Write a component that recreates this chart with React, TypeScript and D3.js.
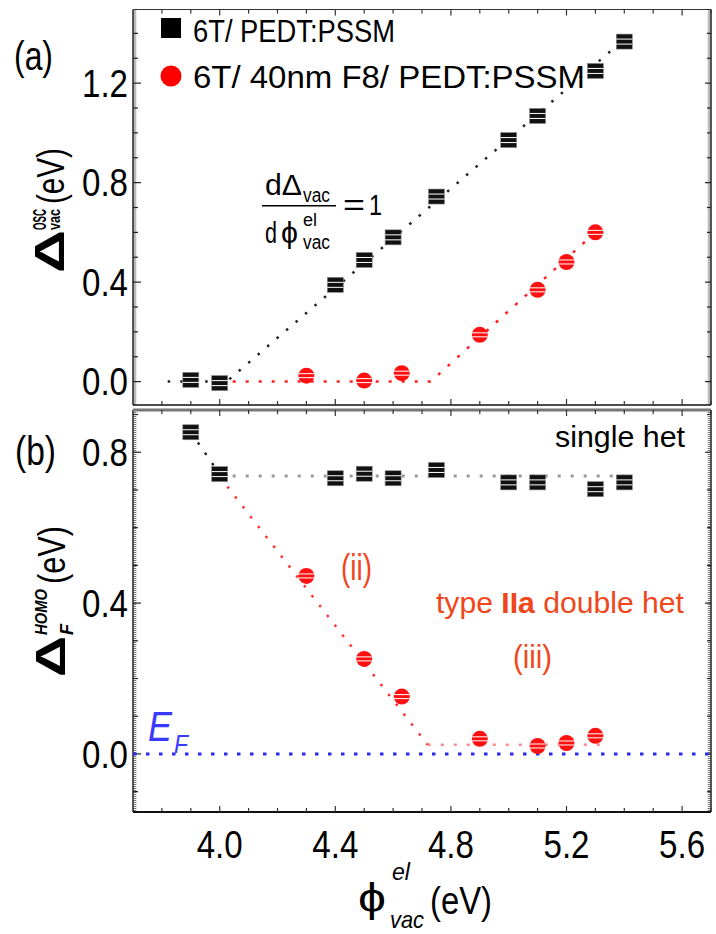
import React from 'react';
import * as d3 from 'd3';

// ---------- data ----------
const xTickVals = [4.0, 4.4, 4.8, 5.2, 5.6];
const topYTickVals = [0.0, 0.4, 0.8, 1.2];
const botYTickVals = [0.0, 0.4, 0.8];

const sqX = [3.9, 4.0, 4.4, 4.5, 4.6, 4.75, 5.0, 5.1, 5.3, 5.4];
const sqTopY = [0.007, -0.006, 0.389, 0.489, 0.58, 0.744, 0.971, 1.068, 1.249, 1.367];
const sqBotY = [0.853, 0.742, 0.731, 0.743, 0.731, 0.753, 0.72, 0.72, 0.702, 0.72];

const cirX = [4.3, 4.5, 4.63, 4.9, 5.1, 5.2, 5.3];
const cirTopY = [0.024, 0.004, 0.034, 0.188, 0.369, 0.481, 0.6];
const cirBotY = [0.472, 0.252, 0.152, 0.04, 0.021, 0.029, 0.048];

// guide (fit) lines
const topBlackFitX = [3.82, 4.024, 5.4];
const topBlackFitY = [0, 0, 1.376];
const topRedFitX = [4.0, 4.73, 5.3];
const topRedFitY = [0, 0, 0.6];
const botBlackFitX = [3.9, 4.0];
const botBlackFitY = [0.853, 0.742];
const botGrayFitX = [4.0, 5.4];
const botGrayFitY = [0.737, 0.737];
const botRedDiagX = [4.0, 4.72];
const botRedDiagY = [0.735, 0.024];
const botRedFlatX = [4.72, 5.35];
const botRedFlatY = [0.024, 0.024];
const efX = [3.7, 5.7];
const efY = [0, 0];

const legendLabels = ['6T/ PEDT:PSSM', '6T/ 40nm F8/ PEDT:PSSM'];

// ---------- layout ----------
const W = 716, H = 934;
const L = 133, R = 711;
const TOP_T = 9.5, TOP_B = 405;
const BOT_T = 410, BOT_B = 812;
const FONT = "'Liberation Sans', Arial, sans-serif";
const ORANGE = '#f0461c';

const x = d3.scaleLinear().domain([3.7, 5.7]).range([L, R]);
const yT = d3.scaleLinear().domain([-0.094, 1.496]).range([TOP_B, TOP_T]);
const yB = d3.scaleLinear().domain([-0.154, 0.912]).range([BOT_B, BOT_T]);

const pts = (xs: number[], ys: number[]) => xs.map((v, i) => [v, ys[i]] as [number, number]);

function T(p: any) {
  const { x: tx, y: ty, size, w, anchor = 'start', fill = '#000', weight = 'normal', italic = false, family = FONT, children } = p;
  return (
    <text x={tx} y={ty} fontSize={size} fontFamily={family} fill={fill} fontWeight={weight}
      fontStyle={italic ? 'italic' : 'normal'} textAnchor={anchor}
      textLength={w} lengthAdjust="spacingAndGlyphs">{children}</text>
  );
}

function Square({ cx, cy }: { cx: number; cy: number }) {
  return (
    <g>
      <rect x={cx - 8} y={cy - 7.5} width={16} height={15} fill="#111" stroke="#888" strokeWidth={0.6} />
      <line x1={cx - 8} x2={cx + 8} y1={cy - 2.5} y2={cy - 2.5} stroke="#fff" strokeWidth={1} />
      <line x1={cx - 8} x2={cx + 8} y1={cy + 2.5} y2={cy + 2.5} stroke="#fff" strokeWidth={1} />
    </g>
  );
}

function Circle({ cx, cy }: { cx: number; cy: number }) {
  return (
    <g>
      <circle cx={cx} cy={cy} r={8} fill="#ff1010" />
      <line x1={cx - 7.7} x2={cx + 7.7} y1={cy - 2} y2={cy - 2} stroke="#fff" strokeWidth={1} />
      <line x1={cx - 7.7} x2={cx + 7.7} y1={cy + 2} y2={cy + 2} stroke="#fff" strokeWidth={1} />
    </g>
  );
}

function Frame({ y, top, bottom, majors, thickTop }: any) {
  const minorY = d3.range(Math.ceil(y.domain()[0] * 10), Math.floor(y.domain()[1] * 10) + 1).map((v) => v / 10);
  const minorX = d3.range(38, 58).map((v) => v / 10);
  const isMajorX = (v: number) => xTickVals.some((m) => Math.abs(m - v) < 1e-6);
  return (
    <g>
      <line x1={L + 1.8} x2={L + 1.8} y1={top} y2={bottom} stroke="#777" strokeWidth={3} strokeDasharray="1 1" />
      <line x1={R - 1.8} x2={R - 1.8} y1={top} y2={bottom} stroke="#777" strokeWidth={3} strokeDasharray="1 1" />
      <line x1={L} x2={L} y1={top} y2={bottom} stroke="#222" strokeWidth={1.5} />
      <line x1={R} x2={R} y1={top} y2={bottom} stroke="#222" strokeWidth={1.5} />
      <line x1={L} x2={R} y1={top} y2={top} stroke={thickTop ? '#777' : '#333'} strokeWidth={thickTop ? 3 : 1.2} />
      <line x1={L} x2={R} y1={bottom} y2={bottom} stroke="#111" strokeWidth={thickTop ? 2.2 : 1.5} />
      {minorY.map((v) => {
        const maj = majors.some((m: number) => Math.abs(m - v) < 1e-6);
        return (
          <g key={'y' + v}>
            <line x1={L} x2={L + (maj ? 8 : 5)} y1={y(v)} y2={y(v)} stroke="#222" strokeWidth={1.2} />
            <line x1={R} x2={R - (maj ? 6 : 4)} y1={y(v)} y2={y(v)} stroke="#222" strokeWidth={1.2} />
          </g>
        );
      })}
      {minorX.map((v) => (
        <g key={'x' + v}>
          <line x1={x(v)} x2={x(v)} y1={top} y2={top + (isMajorX(v) ? 6 : 4)} stroke="#333" strokeWidth={1.2} />
          <line x1={x(v)} x2={x(v)} y1={bottom} y2={bottom - (isMajorX(v) ? 6 : 4)} stroke="#333" strokeWidth={1.2} />
        </g>
      ))}
    </g>
  );
}

export default function App() {
  const lineT = d3.line<[number, number]>().x((d) => x(d[0])).y((d) => yT(d[1]));
  const lineB = d3.line<[number, number]>().x((d) => x(d[0])).y((d) => yB(d[1]));
  const PHI_FONT = "'Liberation Sans', 'DejaVu Sans', sans-serif";

  return (
    <svg width={W} height={H} viewBox={`0 0 ${W} ${H}`}
      style={{ position: 'absolute', left: 0, top: 0, background: '#fff' }}>
      <rect x={0} y={0} width={W} height={H} fill="#fff" />

      {/* ================= TOP PANEL ================= */}
      <Frame y={yT} top={TOP_T} bottom={TOP_B} majors={topYTickVals} thickTop={false} />
      {topYTickVals.map((v) => (
        <T key={'ty' + v} x={128} y={yT(v) + 13.6} size={38} w={46} anchor="end">{v.toFixed(1)}</T>
      ))}

      <path d={lineT(pts(topBlackFitX, topBlackFitY)) || ''} fill="none" stroke="#222" strokeWidth={2.5} strokeDasharray="2.5 10" />
      <path d={lineT(pts(topRedFitX, topRedFitY)) || ''} fill="none" stroke="#ff2020" strokeWidth={2.5} strokeDasharray="3 10" />

      {sqX.map((v, i) => <Square key={'st' + i} cx={x(v)} cy={yT(sqTopY[i])} />)}
      {cirX.map((v, i) => <Circle key={'ct' + i} cx={x(v)} cy={yT(cirTopY[i])} />)}

      {/* legend */}
      <rect x={161} y={18} width={20} height={20} fill="#000" />
      <T x={193} y={42} size={31} w={202}>{legendLabels[0]}</T>
      <circle cx={171} cy={76} r={10.5} fill="#ff0000" />
      <T x={193} y={88} size={31} w={392}>{legendLabels[1]}</T>

      <T x={14} y={70} size={40} w={39}>(a)</T>

      {/* formula */}
      <T x={265} y={195} size={30} w={37}>dΔ</T>
      <T x={303} y={202} size={20} w={27}>vac</T>
      <line x1={262} x2={336} y1={205.7} y2={205.7} stroke="#000" strokeWidth={1.5} />
      <T x={265} y={243} size={30} w={12}>d</T>
      <T x={281} y={243} size={30} w={17} family={PHI_FONT}>ϕ</T>
      <T x={303} y={226} size={18} w={14}>el</T>
      <T x={303} y={249} size={20} w={27}>vac</T>
      <T x={343} y={215} size={30} w={22}>=</T>
      <T x={369} y={215} size={30} w={13}>1</T>

      {/* top y-axis label */}
      <g transform="translate(64,273) rotate(-90)">
        <T x={0} y={0} size={42} w={43} weight="bold">Δ</T>
        <T x={43} y={-18} size={19} w={21} weight="bold">OSC</T>
        <T x={43} y={-4} size={17} w={21} weight="bold">vac</T>
        <T x={69} y={0} size={38} w={56}>(eV)</T>
      </g>

      {/* ================= BOTTOM PANEL ================= */}
      <Frame y={yB} top={BOT_T} bottom={BOT_B} majors={botYTickVals} thickTop={true} />
      {botYTickVals.map((v) => (
        <T key={'by' + v} x={128} y={yB(v) + 13.6} size={38} w={46} anchor="end">{v.toFixed(1)}</T>
      ))}
      {xTickVals.map((v) => (
        <T key={'xt' + v} x={x(v)} y={858} size={38} w={46} anchor="middle">{v.toFixed(1)}</T>
      ))}

      <path d={lineB(pts(efX, efY)) || ''} fill="none" stroke="#2a2af0" strokeWidth={3} strokeDasharray="3.5 9.5" />
      <path d={lineB(pts(botGrayFitX, botGrayFitY)) || ''} fill="none" stroke="#999" strokeWidth={3} strokeDasharray="3 10" />
      <path d={lineB(pts(botBlackFitX, botBlackFitY)) || ''} fill="none" stroke="#222" strokeWidth={2.5} strokeDasharray="2.5 10" />
      <path d={lineB(pts(botRedDiagX, botRedDiagY)) || ''} fill="none" stroke="#ff3030" strokeWidth={2.5} strokeDasharray="2.5 10" />
      <path d={lineB(pts(botRedFlatX, botRedFlatY)) || ''} fill="none" stroke="#ff8a8a" strokeWidth={2.5} strokeDasharray="3 10" />

      {sqX.map((v, i) => <Square key={'sb' + i} cx={x(v)} cy={yB(sqBotY[i])} />)}
      {cirX.map((v, i) => <Circle key={'cb' + i} cx={x(v)} cy={yB(cirBotY[i])} />)}

      <T x={15} y={465} size={40} w={41}>(b)</T>

      <T x={685} y={447} size={30} w={130} anchor="end">single het</T>
      <T x={341} y={580} size={37} w={31} fill={ORANGE}>(ii)</T>
      <text x={436} y={613} fontSize={30} fontFamily={FONT} fill={ORANGE} textLength={248} lengthAdjust="spacingAndGlyphs">
        type <tspan fontWeight="bold">IIa</tspan> double het
      </text>
      <T x={513} y={668} size={34} w={39} fill={ORANGE}>(iii)</T>

      <T x={148} y={741} size={42} w={24} italic fill="#3a3aff">E</T>
      <T x={174} y={753} size={26} w={14} italic fill="#3a3aff">F</T>

      {/* bottom y-axis label */}
      <g transform="translate(65,677) rotate(-90)">
        <T x={0} y={0} size={42} w={41} weight="bold">Δ</T>
        <T x={42} y={-18} size={17} w={46} weight="bold" italic>HOMO</T>
        <T x={42} y={8} size={19} w={11} weight="bold" italic>F</T>
        <T x={93} y={0} size={38} w={58}>(eV)</T>
      </g>

      {/* x-axis label */}
      <T x={358} y={912} size={40} w={28} family={PHI_FONT}>ϕ</T>
      <T x={392} y={880} size={24} w={18} italic>el</T>
      <T x={390} y={928} size={24} w={34} italic>vac</T>
      <T x={430} y={914} size={38} w={62}>(eV)</T>
    </svg>
  );
}
